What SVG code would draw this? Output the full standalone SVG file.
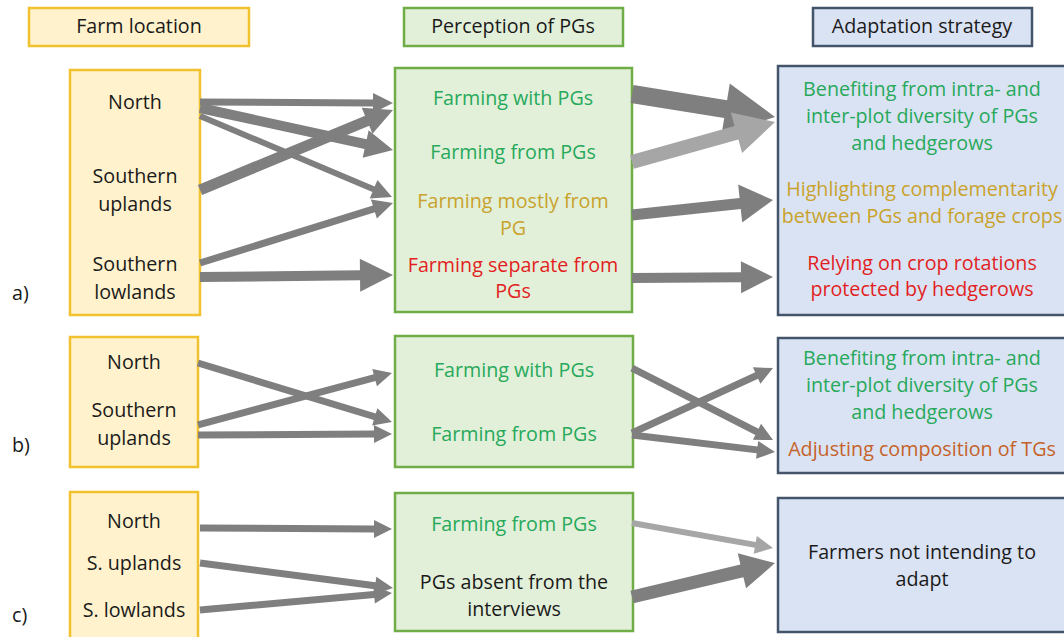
<svg xmlns="http://www.w3.org/2000/svg" width="1064" height="637" viewBox="0 0 1064 637">
<style>
text{font-family:"Open Sans",Lato,"Liberation Sans",sans-serif;font-size:19.7px;text-anchor:middle;fill:#1a1a1a}
.loc{fill:#FFF2CC;stroke:#F2C12E;stroke-width:2.5}
.per{fill:#E2F0D9;stroke:#70AD47;stroke-width:2.5}
.ada{fill:#DAE3F3;stroke:#44546A;stroke-width:2.5}
.g{fill:#27A95B}.y{fill:#C9A22C}.r{fill:#E21F1F}.o{fill:#C5622A}
.lbl{text-anchor:start}
.ar{fill:#7F7F7F}.al{fill:#A6A6A6}
</style>
<rect width="1064" height="637" fill="#ffffff"/>

<g id="hdr-farm"><rect class="loc" x="29" y="8" width="220" height="38"/><text x="139" y="33">Farm location</text></g>
<g id="hdr-perc"><rect class="per" x="404" y="8" width="219" height="38"/><text x="513" y="33">Perception of PGs</text></g>
<g id="hdr-adapt"><rect class="ada" x="813" y="8" width="219" height="38"/><text x="922" y="33">Adaptation strategy</text></g>

<g id="label-a"><text class="lbl" x="12" y="300">a)</text></g>
<g id="label-b"><text class="lbl" x="12" y="452">b)</text></g>
<g id="label-c"><text class="lbl" x="12" y="622">c)</text></g>

<g id="a-loc"><rect class="loc" x="70" y="70" width="130" height="245"/>
<text x="135" y="109">North</text><text x="135" y="183">Southern</text><text x="135" y="211">uplands</text>
<text x="135" y="271">Southern</text><text x="135" y="299">lowlands</text></g>
<g id="a-per"><rect class="per" x="395" y="68" width="237" height="244"/>
<text class="g" x="513" y="105">Farming with PGs</text><text class="g" x="513" y="159">Farming from PGs</text>
<text class="y" x="513" y="208">Farming mostly from</text><text class="y" x="513" y="235">PG</text>
<text class="r" x="513" y="272">Farming separate from</text><text class="r" x="513" y="298">PGs</text></g>
<g id="a-ada"><rect class="ada" x="778" y="66" width="300" height="249"/>
<text class="g" x="922" y="96">Benefiting from intra- and</text><text class="g" x="922" y="123">inter-plot diversity of PGs</text><text class="g" x="922" y="150">and hedgerows</text>
<text class="y" x="922" y="196">Highlighting complementarity</text><text class="y" x="922" y="223">between PGs and forage crops</text>
<text class="r" x="922" y="270">Relying on crop rotations</text><text class="r" x="922" y="296">protected by hedgerows</text></g>

<g id="b-loc"><rect class="loc" x="70" y="337" width="128" height="130"/>
<text x="134" y="369">North</text><text x="134" y="417">Southern</text><text x="134" y="445">uplands</text></g>
<g id="b-per"><rect class="per" x="395" y="336" width="238" height="131"/>
<text class="g" x="514" y="377">Farming with PGs</text><text class="g" x="514" y="441">Farming from PGs</text></g>
<g id="b-ada"><rect class="ada" x="778" y="338" width="300" height="135"/>
<text class="g" x="922" y="365">Benefiting from intra- and</text><text class="g" x="922" y="392">inter-plot diversity of PGs</text><text class="g" x="922" y="419">and hedgerows</text>
<text class="o" x="922" y="456">Adjusting composition of TGs</text></g>

<g id="c-loc"><rect class="loc" x="70" y="492" width="128" height="150"/>
<text x="134" y="528">North</text><text x="134" y="570">S. uplands</text><text x="134" y="617">S. lowlands</text></g>
<g id="c-per"><rect class="per" x="395" y="493" width="238" height="138"/>
<text class="g" x="514" y="531">Farming from PGs</text><text x="514" y="589">PGs absent from the</text><text x="514" y="616">interviews</text></g>
<g id="c-ada"><rect class="ada" x="778" y="498" width="300" height="134"/>
<text x="922" y="559">Farmers not intending to</text><text x="922" y="586">adapt</text></g>

<g id="connectors">
<!-- a: location -> perception -->
<g transform="translate(393,103) rotate(0.3)"><polygon class="ar" points="-193,-3.5 -20,-3.5 -20,-10 0,0 -20,10 -20,3.5 -193,3.5"/></g>
<g transform="translate(393,150) rotate(12.28)"><polygon class="ar" points="-197.5,-5 -28,-5 -28,-14 0,0 -28,14 -28,5 -197.5,5"/></g>
<g transform="translate(392,197) rotate(22.87)"><polygon class="ar" points="-208.4,-3 -20,-3 -20,-10 0,0 -20,10 -20,3 -208.4,3"/></g>
<g transform="translate(393,110) rotate(-22.52)"><polygon class="ar" points="-208.9,-5.5 -28,-5.5 -28,-14 0,0 -28,14 -28,5.5 -208.9,5.5"/></g>
<g transform="translate(393,203) rotate(-17.27)"><polygon class="ar" points="-202.1,-3.5 -20,-3.5 -20,-10 0,0 -20,10 -20,3.5 -202.1,3.5"/></g>
<g transform="translate(393,275) rotate(-0.59)"><polygon class="ar" points="-193,-5 -33,-5 -33,-16.5 0,0 -33,16.5 -33,5 -193,5"/></g>
<!-- a: perception -> adaptation -->
<g transform="translate(775,117) rotate(9.14)"><polygon class="ar" points="-144.8,-9 -50,-9 -50,-26 0,0 -50,26 -50,9 -144.8,9"/></g>
<g transform="translate(775,122) rotate(-15.63)"><polygon class="al" points="-148.5,-7 -40,-7 -40,-21 0,0 -40,21 -40,7 -148.5,7"/></g>
<g transform="translate(773,200) rotate(-6.07)"><polygon class="ar" points="-141.8,-5.5 -33,-5.5 -33,-19 0,0 -33,19 -33,5.5 -141.8,5.5"/></g>
<g transform="translate(773,277) rotate(-0.41)"><polygon class="ar" points="-141,-5 -32,-5 -32,-16 0,0 -32,16 -32,5 -141,5"/></g>
<!-- b -->
<g transform="translate(392,422) rotate(16.91)"><polygon class="ar" points="-202.8,-3.5 -18,-3.5 -18,-9 0,0 -18,9 -18,3.5 -202.8,3.5"/></g>
<g transform="translate(392,373) rotate(-15)"><polygon class="ar" points="-200.8,-3.5 -18,-3.5 -18,-9 0,0 -18,9 -18,3.5 -200.8,3.5"/></g>
<g transform="translate(392,434) rotate(-0.3)"><polygon class="ar" points="-194,-3.5 -18,-3.5 -18,-9 0,0 -18,9 -18,3.5 -194,3.5"/></g>
<g transform="translate(773,440) rotate(27.05)"><polygon class="ar" points="-158.3,-3.5 -18,-3.5 -18,-9 0,0 -18,9 -18,3.5 -158.3,3.5"/></g>
<g transform="translate(773,368) rotate(-24.75)"><polygon class="ar" points="-155.3,-3.5 -18,-3.5 -18,-9 0,0 -18,9 -18,3.5 -155.3,3.5"/></g>
<g transform="translate(775,452) rotate(6.78)"><polygon class="ar" points="-144,-3.5 -18,-3.5 -18,-9 0,0 -18,9 -18,3.5 -144,3.5"/></g>
<!-- c -->
<g transform="translate(392,529) rotate(0.3)"><polygon class="ar" points="-192,-3.5 -18,-3.5 -18,-9 0,0 -18,9 -18,3.5 -192,3.5"/></g>
<g transform="translate(393,588) rotate(7.38)"><polygon class="ar" points="-194.6,-3.5 -18,-3.5 -18,-9 0,0 -18,9 -18,3.5 -194.6,3.5"/></g>
<g transform="translate(392,593) rotate(-5.06)"><polygon class="ar" points="-192.8,-3.5 -18,-3.5 -18,-9 0,0 -18,9 -18,3.5 -192.8,3.5"/></g>
<g transform="translate(773,548) rotate(10.05)"><polygon class="al" points="-143.2,-3 -18,-3 -18,-9 0,0 -18,9 -18,3 -143.2,3"/></g>
<g transform="translate(775,563) rotate(-13.37)"><polygon class="ar" points="-147,-6.5 -34,-6.5 -34,-18 0,0 -34,18 -34,6.5 -147,6.5"/></g>
</g>
</svg>
